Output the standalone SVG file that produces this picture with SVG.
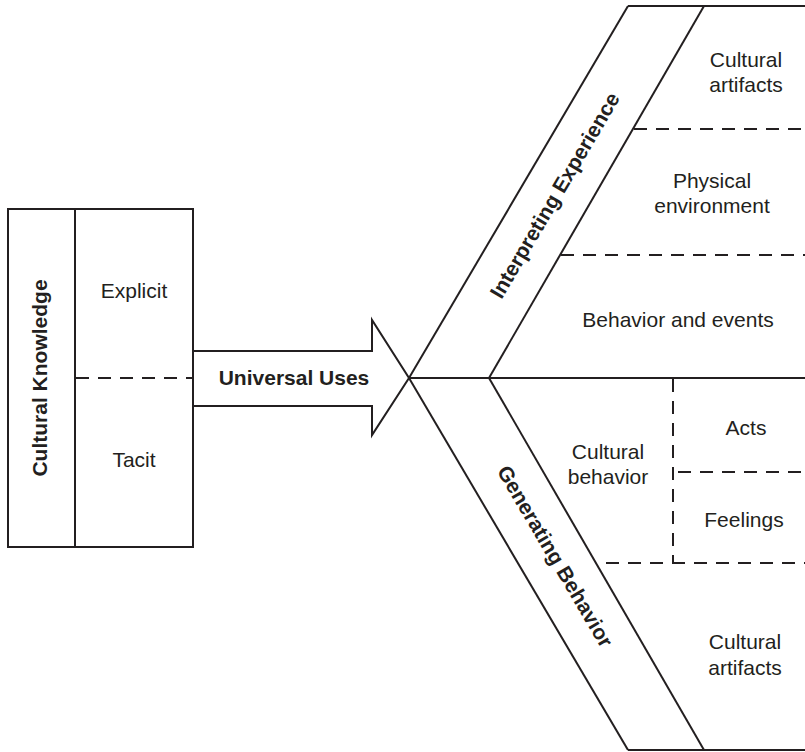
<svg xmlns="http://www.w3.org/2000/svg" width="805" height="752" viewBox="0 0 805 752">
  <style>
    .ln { fill: none; stroke: #231f20; stroke-width: 2; stroke-linejoin: miter; }
    .dash { fill: none; stroke: #231f20; stroke-width: 2; stroke-dasharray: 13 9; }
    .t { font-family: "Liberation Sans", Arial, sans-serif; font-size: 21px; fill: #231f20; text-anchor: middle; }
    .b { font-weight: bold; }
  </style>
  <rect width="805" height="752" fill="#ffffff"/>

  <g id="cultural-knowledge">
    <rect class="ln" x="8" y="209" width="185" height="338" fill="#ffffff"/>
    <line class="ln" x1="75" y1="209" x2="75" y2="547"/>
    <line class="dash" x1="76" y1="378" x2="193" y2="378"/>
    <text class="t b" transform="translate(47,378) rotate(-90)">Cultural Knowledge</text>
    <text class="t" x="134" y="298">Explicit</text>
    <text class="t" x="134" y="467">Tacit</text>
  </g>

  <g id="connectors">
    <g id="universal-uses">
      <polygon class="ln" fill="#ffffff" points="193,351 372,351 372,320 409,378 372,435 372,406 193,406"/>
      <text class="t b" x="294" y="385">Universal Uses</text>
    </g>
  </g>

  <g id="interpreting-experience">
    <line class="ln" x1="409" y1="378" x2="628" y2="6"/>
    <line class="ln" x1="489" y1="378" x2="704" y2="6"/>
    <line class="ln" x1="628" y1="6" x2="805" y2="6"/>
    <line class="ln" x1="409" y1="378" x2="805" y2="378"/>
    <text class="t b" transform="translate(561,199) rotate(-59.5)">Interpreting Experience</text>
  </g>

  <g id="generating-behavior">
    <line class="ln" x1="409" y1="378" x2="628" y2="750"/>
    <line class="ln" x1="489" y1="378" x2="704" y2="750"/>
    <line class="ln" x1="628" y1="750" x2="805" y2="750"/>
    <text class="t b" transform="translate(549,560) rotate(59.5)">Generating Behavior</text>
  </g>

  <g id="cultural-artifacts-top">
    <text class="t" x="746" y="67">Cultural</text>
    <text class="t" x="746" y="92">artifacts</text>
  </g>
  <line class="dash" x1="634" y1="129" x2="805" y2="129"/>

  <g id="physical-environment">
    <text class="t" x="712" y="188">Physical</text>
    <text class="t" x="712" y="213">environment</text>
  </g>
  <line class="dash" x1="561" y1="255" x2="805" y2="255"/>

  <g id="behavior-and-events">
    <text class="t" x="678" y="327">Behavior and events</text>
  </g>

  <g id="cultural-behavior">
    <line class="dash" x1="673" y1="379" x2="673" y2="563"/>
    <text class="t" x="608" y="459">Cultural</text>
    <text class="t" x="608" y="484">behavior</text>
  </g>

  <g id="acts">
    <text class="t" x="746" y="435">Acts</text>
  </g>
  <line class="dash" x1="678" y1="472" x2="805" y2="472"/>

  <g id="feelings">
    <text class="t" x="744" y="527">Feelings</text>
  </g>
  <line class="dash" x1="606" y1="563" x2="805" y2="563"/>

  <g id="cultural-artifacts-bottom">
    <text class="t" x="745" y="649">Cultural</text>
    <text class="t" x="745" y="675">artifacts</text>
  </g>
</svg>
